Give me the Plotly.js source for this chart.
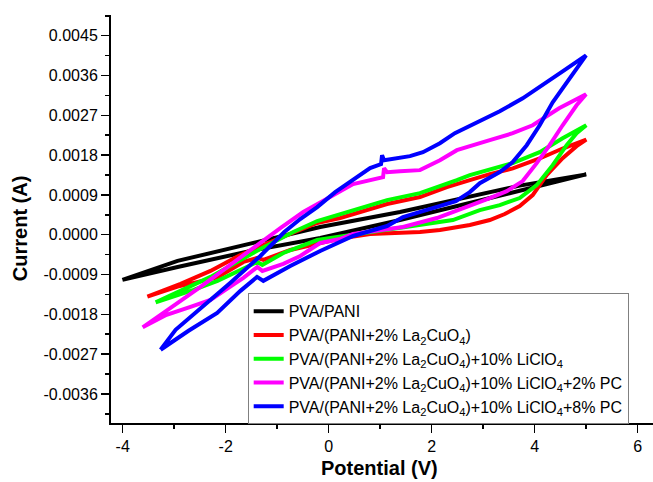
<!DOCTYPE html>
<html>
<head>
<meta charset="utf-8">
<script src="https://cdn.plot.ly/plotly-3.0.1.min.js"></script>
<style>html,body{margin:0;padding:0;background:#fff;}#chart{width:653px;height:482px;}</style>
</head>
<body>
<div id="chart"></div>
<script>
// Series names (legend)
const seriesNames = [
  'PVA/PANI',
  'PVA/(PANI+2% La<sub>2</sub>CuO<sub>4</sub>)',
  'PVA/(PANI+2% La<sub>2</sub>CuO<sub>4</sub>)+10% LiClO<sub>4</sub>',
  'PVA/(PANI+2% La<sub>2</sub>CuO<sub>4</sub>)+10% LiClO<sub>4</sub>+2% PC',
  'PVA/(PANI+2% La<sub>2</sub>CuO<sub>4</sub>)+10% LiClO<sub>4</sub>+8% PC'
];

// Potential (V) and Current (A) for each closed CV loop (forward scan, then reverse scan)
const blackV = [-4.005, -2.934, -1.520, -0.165, 1.385, 2.411, 3.709, 5.001,
                3.709, 2.411, 1.385, -0.165, -1.520, -2.934, -4.005];
const blackI = [-0.001022, -0.000729, -0.000368, -0.000074, 0.000332, 0.000625, 0.000997, 0.001363,
                0.001110, 0.000783, 0.000512, 0.000174, -0.000210, -0.000593, -0.001022];

const redV = [-3.521, -2.934, -2.160, -1.656, -1.385, -1.269, -0.746, 0.223, 0.804, 1.772, 2.160, 2.741, 3.128, 3.419, 3.709, 3.961, 4.232, 4.542, 4.813, 5.001,
              4.542, 4.097, 3.574, 3.128, 2.741, 2.295, 1.772, 1.133, 0.223, -0.223, -1.133, -1.714, -2.295, -2.876, -3.521];
const redI = [-0.001399, -0.001173, -0.000966, -0.000616, -0.000526, -0.000571, -0.000345, -0.000086, 0.000016, 0.000061, 0.000106, 0.000219, 0.000332, 0.000467, 0.000648, 0.000896, 0.001347, 0.001731, 0.002001, 0.002148,
              0.001949, 0.001724, 0.001498, 0.001370, 0.001234, 0.001076, 0.000851, 0.000693, 0.000377, 0.000264, -0.000165, -0.000458, -0.000819, -0.001112, -0.001399];

const greenV = [-3.360, -2.624, -2.159, -1.656, -1.385, -1.288, -0.881, -0.223, 0.416, 1.443, 2.411, 2.934, 3.322, 3.709, 4.039, 4.349, 4.620, 4.814, 5.001,
                4.542, 4.097, 3.574, 3.128, 2.741, 2.489, 2.101, 1.772, 1.133, 0.475, -0.223, -0.688, -1.327, -2.295, -2.876, -3.360];
const greenI = [-0.001530, -0.001248, -0.001045, -0.000751, -0.000616, -0.000684, -0.000413, -0.000120, -0.000007, 0.000174, 0.000332, 0.000557, 0.000670, 0.000828, 0.001121, 0.001573, 0.002024, 0.002295, 0.002475,
                0.002182, 0.001866, 0.001618, 0.001482, 0.001347, 0.001234, 0.001076, 0.000941, 0.000783, 0.000557, 0.000309, 0.000061, -0.000323, -0.000954, -0.001270, -0.001530];

const magentaV = [-3.612, -3.147, -2.683, -2.295, -2.005, -1.656, -1.385, -1.288, -0.881, -0.552, -0.165, 0.223, 0.475, 0.997, 1.443, 2.101, 2.741, 3.128, 3.458, 3.767, 4.039, 4.290, 4.542, 4.813, 4.997,
                  4.474, 3.961, 3.574, 3.128, 2.489, 2.160, 1.772, 1.385, 1.133, 1.075, 1.056, 0.475, -0.165, -0.494, -0.939, -1.327, -1.908, -2.489, -3.070, -3.612];
const magentaI = [-0.002094, -0.001812, -0.001631, -0.001473, -0.001248, -0.000977, -0.000729, -0.000819, -0.000661, -0.000481, -0.000187, -0.000097, 0.000016, 0.000106, 0.000174, 0.000377, 0.000648, 0.000828, 0.000986, 0.001212, 0.001618, 0.002024, 0.002475, 0.002926, 0.003175,
                  0.002859, 0.002475, 0.002295, 0.002137, 0.001911, 0.001685, 0.001460, 0.001437, 0.001415, 0.001505, 0.001302, 0.001144, 0.000715, 0.000512, 0.000151, -0.000187, -0.000684, -0.001180, -0.001654, -0.002094];

const blueV = [-3.264, -2.721, -2.165, -1.714, -1.391, -1.269, -0.746, -0.165, 0.474, 1.133, 1.443, 1.966, 2.469, 2.740, 2.934, 3.322, 3.573, 3.845, 4.097, 4.349, 4.620, 4.814, 4.997,
               4.542, 4.097, 3.767, 3.322, 3.128, 2.740, 2.450, 2.159, 1.830, 1.578, 1.307, 1.075, 1.036, 1.017, 0.804, 0.475, 0.126, -0.223, -0.552, -0.862, -1.327, -1.908, -2.489, -2.973, -3.264];
const blueI = [-0.002601, -0.002173, -0.001767, -0.001270, -0.000954, -0.001044, -0.000706, -0.000368, -0.000029, 0.000196, 0.000399, 0.000580, 0.000760, 0.000963, 0.001166, 0.001415, 0.001641, 0.002024, 0.002475, 0.002994, 0.003445, 0.003761, 0.004055,
               0.003694, 0.003355, 0.003084, 0.002791, 0.002678, 0.002475, 0.002295, 0.002069, 0.001866, 0.001776, 0.001731, 0.001685, 0.001798, 0.001595, 0.001505, 0.001234, 0.000963, 0.000625, 0.000354, 0.000061, -0.000481, -0.001085, -0.001670, -0.002150, -0.002601];

// Axis ticks
const xTickVals = [-4, -2, 0, 2, 4, 6];
const xTickText = ['-4', '-2', '0', '2', '4', '6'];
const yTickVals = [-0.0036, -0.0027, -0.0018, -0.0009, 0, 0.0009, 0.0018, 0.0027, 0.0036, 0.0045];
const yTickText = ['-0.0036', '-0.0027', '-0.0018', '-0.0009', '0.0000', '0.0009', '0.0018', '0.0027', '0.0036', '0.0045'];

const seriesV = [blackV, redV, greenV, magentaV, blueV];
const seriesI = [blackI, redI, greenI, magentaI, blueI];
const colors = ['#000000', '#ff0000', '#00ff00', '#ff00ff', '#0000ff'];

const FONT = '"Liberation Sans", Arial, Helvetica, sans-serif';

const traces = seriesV.map((v, k) => ({
  type: 'scatter', mode: 'lines',
  x: v, y: seriesI[k], name: seriesNames[k],
  line: {color: colors[k], width: 4}
}));

const layout = {
  width: 653, height: 482,
  margin: {l: 111, r: 0, t: 15, b: 59},
  paper_bgcolor: '#ffffff', plot_bgcolor: '#ffffff',
  font: {family: FONT, color: '#000000'},
  showlegend: true,
  legend: {
    x: 0.2522, y: 0.318, xanchor: 'left', yanchor: 'top',
    bgcolor: '#ffffff', bordercolor: '#808080', borderwidth: 1,
    font: {family: FONT, size: 16, color: '#000000'},
    tracegroupgap: 0
  },
  xaxis: {
    range: [-4.227, 6.297],
    showgrid: false, zeroline: false,
    showline: true, linecolor: '#000000', linewidth: 2,
    ticks: 'outside', ticklen: 8, tickwidth: 1.5, tickcolor: '#000000',
    tickmode: 'array', tickvals: xTickVals, ticktext: xTickText,
    tickfont: {family: FONT, size: 16, color: '#000000'},
    minor: {ticks: 'outside', ticklen: 4, tickwidth: 1.5, tickcolor: '#000000', tick0: 0, dtick: 1, showgrid: false},
    fixedrange: true
  },
  yaxis: {
    range: [-0.004258, 0.004968],
    showgrid: false, zeroline: false,
    showline: true, linecolor: '#000000', linewidth: 2,
    ticks: 'outside', ticklen: 8, tickwidth: 1.5, tickcolor: '#000000',
    tickmode: 'array', tickvals: yTickVals, ticktext: yTickText,
    tickfont: {family: FONT, size: 16, color: '#000000'},
    minor: {ticks: 'outside', ticklen: 4, tickwidth: 1.5, tickcolor: '#000000', tick0: 0, dtick: 0.00045, showgrid: false},
    fixedrange: true
  },
  annotations: [
    {text: '<b>Potential (V)</b>', xref: 'paper', yref: 'paper', x: 0.4945, y: -0.1103,
     xanchor: 'center', yanchor: 'middle', showarrow: false, font: {family: FONT, size: 20, color: '#000000'}},
    {text: '<b>Current (A)</b>', xref: 'paper', yref: 'paper', x: -0.1675, y: 0.478, textangle: -90,
     xanchor: 'center', yanchor: 'middle', showarrow: false, font: {family: FONT, size: 20, color: '#000000'}}
  ]
};

Plotly.newPlot('chart', traces, layout, {staticPlot: true, displayModeBar: false});
</script>
</body>
</html>
